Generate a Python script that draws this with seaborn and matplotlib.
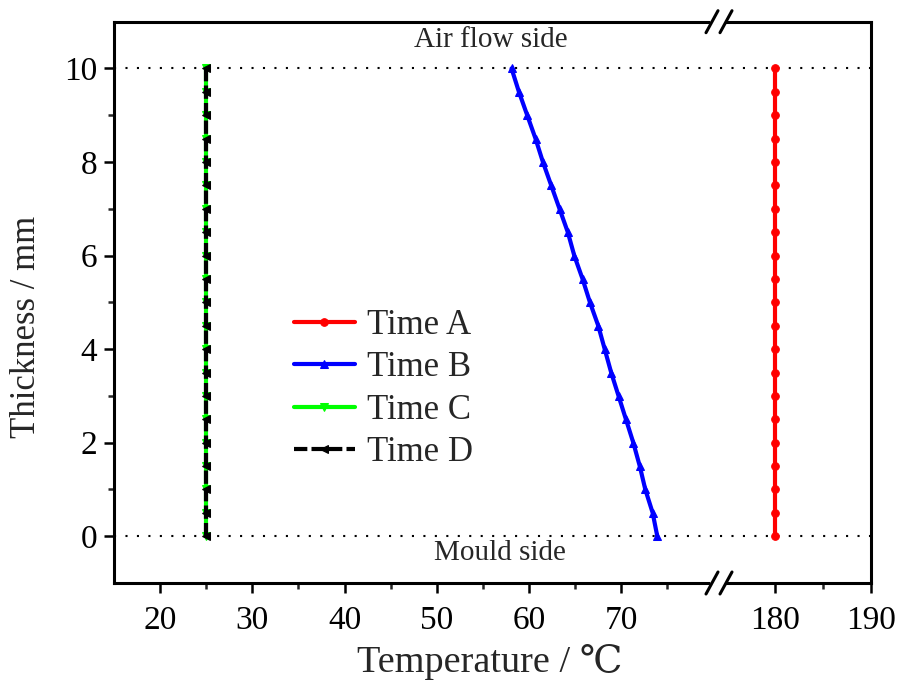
import numpy as np
import pandas as pd
import seaborn as sns
import matplotlib.pyplot as plt
from matplotlib.lines import Line2D

# thickness positions (mm), one point every 0.5 mm
thickness = [10.0, 9.5, 9.0, 8.5, 8.0, 7.5, 7.0, 6.5, 6.0, 5.5, 5.0,
             4.5, 4.0, 3.5, 3.0, 2.5, 2.0, 1.5, 1.0, 0.5, 0.0]

# temperatures
temp_a = [180.0] * 21
temp_b = [58.1, 58.9, 59.8, 60.7, 61.5, 62.4, 63.3, 64.2, 64.9, 65.8, 66.6,
          67.5, 68.2, 68.9, 69.7, 70.5, 71.3, 72.0, 72.6, 73.4, 73.9]
temp_c = [25.0] * 21
temp_d = [25.0] * 21

ref_lines = [10, 0]

sns.set_style('ticks')
plt.rcParams['font.family'] = ['Liberation Serif', 'DejaVu Serif']

fig = plt.figure(figsize=(9.01, 6.93), dpi=100)
W, H = 901, 693
left, right, top, bottom, brk = 114, 871, 21.7, 583, 720
ax1 = fig.add_axes([left / W, 1 - bottom / H, (brk - left) / W, (bottom - top) / H])
ax2 = fig.add_axes([brk / W, 1 - bottom / H, (right - brk) / W, (bottom - top) / H])

lw = 3.0
ms = 5.5
df_a = pd.DataFrame({'T': temp_a, 'y': thickness})
df_b = pd.DataFrame({'T': temp_b, 'y': thickness})
df_c = pd.DataFrame({'T': temp_c, 'y': thickness})
df_d = pd.DataFrame({'T': temp_d, 'y': thickness})

sns.lineplot(data=df_a, x='T', y='y', ax=ax2, estimator=None, sort=False,
             color='#ff0000', marker='o', markersize=ms, markeredgecolor='#ff0000',
             linewidth=lw, label='Time A', zorder=3)
sns.lineplot(data=df_b, x='T', y='y', ax=ax1, estimator=None, sort=False,
             color='#0000ff', marker='^', markersize=ms, markeredgecolor='#0000ff',
             linewidth=lw, label='Time B', zorder=3)
sns.lineplot(data=df_c, x='T', y='y', ax=ax1, estimator=None, sort=False,
             color='#00ff00', marker='v', markersize=ms, markeredgecolor='#00ff00',
             linewidth=lw, label='Time C', zorder=3)
sns.lineplot(data=df_d, x='T', y='y', ax=ax1, estimator=None, sort=False,
             color='black', marker='<', markersize=ms, markeredgecolor='black',
             linewidth=lw, dashes=False, label='Time D', zorder=4)
ax1.get_lines()[-1].set_dashes([3.2, 1.0])

for ax in (ax1, ax2):
    for y in ref_lines:
        ax.axhline(y, color='black', linewidth=1.5, linestyle=(0, (1, 4.5)), zorder=1)
    ax.set_ylim(-1, 11)
    ax.set_xlabel('')
    ax.set_ylabel('')
    for s in ax.spines.values():
        s.set_linewidth(2.2)
        s.set_color('black')
    ax.tick_params(which='major', direction='out', length=7, width=1.8,
                   labelsize=24, pad=5, colors='black')
    ax.tick_params(which='minor', direction='out', length=4, width=1.8)
    ax.tick_params(axis='x', which='major', pad=9)

ax1.set_xlim(15, 80.7)
ax1.set_xticks([20, 30, 40, 50, 60, 70])
ax1.set_xticks([25, 35, 45, 55, 65, 75], minor=True)
ax1.set_yticks([0, 2, 4, 6, 8, 10])
ax1.set_yticks([1, 3, 5, 7, 9], minor=True)
ax1.spines['right'].set_visible(False)
ax1.tick_params(axis='x', which='both', top=False)
ax1.tick_params(axis='y', which='both', right=False)

ax2.set_xlim(174.3, 190)
ax2.set_xticks([180, 190])
ax2.set_xticks([185], minor=True)
ax2.set_yticks([])
ax2.set_yticks([], minor=True)
ax2.spines['left'].set_visible(False)
ax2.tick_params(axis='x', which='both', top=False)

ax1.text(55.9, 10.6, 'Air flow side', fontsize=21, ha='center', va='center')
ax1.text(56.8, -0.35, 'Mould side', fontsize=21, ha='center', va='center')

h1, l1 = ax1.get_legend_handles_labels()
h2, l2 = ax2.get_legend_handles_labels()
if ax2.get_legend() is not None:
    ax2.get_legend().remove()
ax1.legend(h2 + h1, l2 + l1, loc='upper left', bbox_to_anchor=(294 / W, 1 - 309 / H),
           bbox_transform=fig.transFigure, frameon=False, fontsize=25,
           handlelength=1.75, handletextpad=0.35, labelspacing=0.27,
           borderpad=0, borderaxespad=0, numpoints=1)

# axis break marks
for yb in (top, bottom):
    fig.add_artist(Line2D([713 / W, 723 / W], [1 - yb / H, 1 - yb / H], color='white',
                          linewidth=4, transform=fig.transFigure))
    for xb in (712, 726):
        fig.add_artist(Line2D([(xb - 6) / W, (xb + 6) / W], [1 - (yb + 11) / H, 1 - (yb - 11) / H],
                              color='black', linewidth=2.2, transform=fig.transFigure))

fig.text(490 / W, 1 - 662 / H, 'Temperature / ℃', fontsize=27.5, ha='center', va='center')
fig.text(27 / W, 1 - 327 / H, 'Thickness / mm', fontsize=25, ha='center', va='center',
         rotation=90)

fig.savefig('out.png', dpi=100)
